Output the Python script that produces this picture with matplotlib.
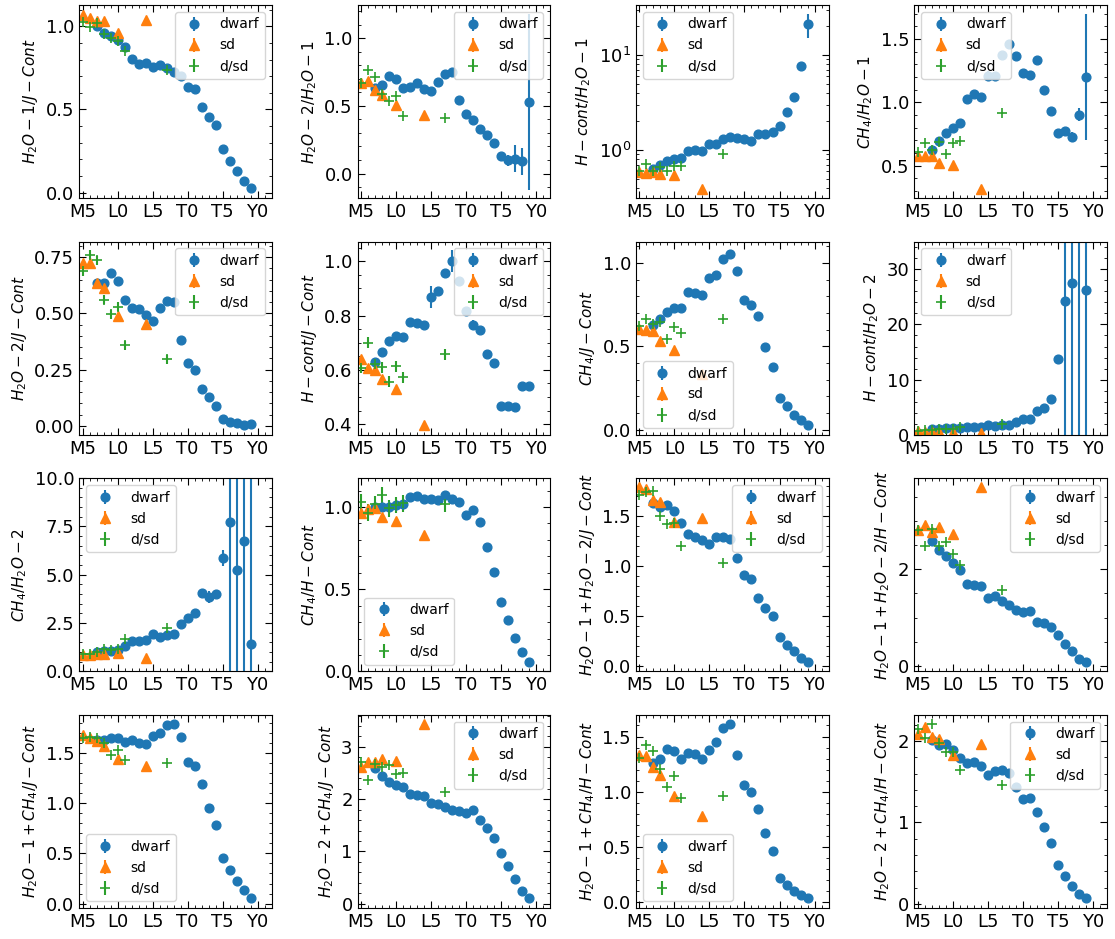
import matplotlib
matplotlib.use('Agg')
import matplotlib.pyplot as plt
from matplotlib.ticker import AutoMinorLocator, MaxNLocator, FixedLocator, MultipleLocator
import numpy as np

# ---------------- categories ----------------
SPT_DWARF = ['M7', 'M8', 'M9', 'L0', 'L1', 'L2', 'L3', 'L4', 'L5', 'L6', 'L7', 'L8', 'L9',
             'T0', 'T1', 'T2', 'T3', 'T4', 'T5', 'T6', 'T7', 'T8', 'T9']
SPT_SD = ['M5', 'M6', 'M7', 'M8', 'L0', 'L4']
SPT_DSD = ['M5', 'M6', 'M7', 'M8', 'M9', 'L0', 'L1', 'L7']
TICK_LABELS = ['M5', 'L0', 'L5', 'T0', 'T5', 'Y0']
SERIES_LABELS = ['dwarf', 'sd', 'd/sd']

YLABELS = [
    r'$H_2O-1/J-Cont$', r'$H_2O-2/H_2O-1$', r'$H-cont/H_2O-1$', r'$CH_4/H_2O-1$',
    r'$H_2O-2/J-Cont$', r'$H-cont/J-Cont$', r'$CH_4/J-Cont$', r'$H-cont/H_2O-2$',
    r'$CH_4/H_2O-2$', r'$CH_4/H-Cont$', r'$H_2O-1+H_2O-2/J-Cont$', r'$H_2O-1+H_2O-2/H-Cont$',
    r'$H_2O-1+CH_4/J-Cont$', r'$H_2O-2+CH_4/J-Cont$', r'$H_2O-1+CH_4/H-Cont$', r'$H_2O-2+CH_4/H-Cont$',
]

# ---------------- values (dwarf / sd / d/sd) ----------------
P1_DWARF = [1.0, 0.96, 0.94, 0.92, 0.877, 0.806, 0.776, 0.778, 0.756, 0.77, 0.748, 0.726, 0.70,
            0.635, 0.621, 0.514, 0.456, 0.405, 0.26, 0.19, 0.131, 0.07, 0.026]
P1_SD = [1.07, 1.05, 1.03, 1.03, 0.958, 1.04]
P1_DSD = [1.026, 0.994, 1.02, 0.954, 0.933, 0.913, 0.849, 0.736]

P2_DWARF = [0.630, 0.652, 0.721, 0.696, 0.635, 0.642, 0.667, 0.627, 0.608, 0.677, 0.733, 0.753, 0.546,
            0.437, 0.398, 0.326, 0.284, 0.227, 0.128, 0.099, 0.109, 0.091, 0.531]
P2_SD = [0.672, 0.684, 0.615, 0.580, 0.504, 0.432]
P2_DSD = [0.672, 0.763, 0.711, 0.585, 0.536, 0.573, 0.425, 0.407]

P3_DWARF = [0.631, 0.69, 0.76, 0.80, 0.83, 0.968, 0.992, 0.976, 1.147, 1.157, 1.295, 1.38, 1.327,
            1.295, 1.234, 1.46, 1.46, 1.535, 1.79, 2.49, 3.58, 7.6, 21.2]
P3_SD = [0.582, 0.573, 0.582, 0.555, 0.55, 0.389]
P3_DSD = [0.601, 0.713, 0.606, 0.657, 0.596, 0.684, 0.684, 0.90]

P4_DWARF = [0.626, 0.692, 0.755, 0.8, 0.837, 1.029, 1.066, 1.042, 1.21, 1.21, 1.376, 1.463, 1.368,
            1.232, 1.216, 1.334, 1.1, 0.934, 0.755, 0.771, 0.724, 0.903, 1.2]
P4_SD = [0.574, 0.574, 0.579, 0.521, 0.503, 0.318]
P4_DSD = [0.608, 0.679, 0.621, 0.684, 0.592, 0.679, 0.692, 0.913]

P5_DWARF = [0.633, 0.633, 0.681, 0.642, 0.56, 0.524, 0.521, 0.493, 0.464, 0.524, 0.553, 0.552, 0.381,
            0.28, 0.248, 0.165, 0.127, 0.09, 0.031, 0.016, 0.012, 0.004, 0.009]
P5_SD = [0.724, 0.724, 0.636, 0.614, 0.487, 0.451]
P5_DSD = [0.687, 0.76, 0.735, 0.56, 0.495, 0.53, 0.359, 0.296]

P6_DWARF = [0.629, 0.664, 0.708, 0.726, 0.72, 0.778, 0.771, 0.767, 0.869, 0.89, 0.958, 1.0, 0.928,
            0.818, 0.765, 0.747, 0.658, 0.624, 0.466, 0.466, 0.464, 0.541, 0.541]
P6_SD = [0.639, 0.606, 0.598, 0.567, 0.528, 0.399]
P6_DSD = [0.608, 0.7, 0.62, 0.61, 0.557, 0.614, 0.572, 0.657]

P7_DWARF = [0.63, 0.663, 0.709, 0.729, 0.733, 0.824, 0.822, 0.806, 0.913, 0.929, 1.026, 1.057, 0.954,
            0.778, 0.749, 0.681, 0.497, 0.376, 0.192, 0.143, 0.091, 0.061, 0.028]
P7_SD = [0.606, 0.596, 0.592, 0.535, 0.479, 0.333]
P7_DSD = [0.62, 0.667, 0.632, 0.646, 0.545, 0.616, 0.582, 0.663]

P8_DWARF = [1.08, 1.08, 1.2, 1.2, 1.32, 1.44, 1.38, 1.44, 1.74, 1.68, 1.8, 1.8, 2.28,
            2.81, 2.93, 4.37, 4.91, 6.59, 13.7, 24.2, 27.5, 45.0, 26.2]
P8_SD = [0.7, 0.6, 0.6, 0.6, 0.6, 0.3]
P8_DSD = [0.7, 0.84, 0.9, 1.0, 1.08, 1.08, 1.38, 2.0]

P9_DWARF = [1.01, 1.04, 1.04, 1.1, 1.3, 1.58, 1.58, 1.61, 1.95, 1.78, 1.87, 1.92, 2.47,
            2.76, 3.03, 4.06, 3.84, 4.0, 5.86, 7.74, 5.24, 6.76, 1.44]
P9_SD = [0.84, 0.84, 0.92, 0.92, 0.96, 0.72]
P9_DSD = [0.92, 0.92, 1.01, 1.18, 1.1, 1.18, 1.66, 2.24]

P10_DWARF = [1.002, 1.002, 1.002, 1.01, 1.018, 1.063, 1.069, 1.051, 1.051, 1.045, 1.073, 1.051, 1.03,
             0.949, 0.982, 0.911, 0.757, 0.605, 0.421, 0.312, 0.202, 0.119, 0.059]
P10_SD = [0.962, 0.986, 0.996, 0.941, 0.915, 0.83]
P10_DSD = [1.028, 0.966, 1.016, 1.073, 0.992, 1.012, 1.022, 1.018]

P11_DWARF = [1.627, 1.582, 1.61, 1.541, 1.428, 1.318, 1.291, 1.26, 1.216, 1.284, 1.291, 1.267, 1.079,
             0.908, 0.866, 0.675, 0.582, 0.497, 0.291, 0.205, 0.144, 0.079, 0.041]
P11_SD = [1.781, 1.764, 1.654, 1.634, 1.438, 1.473]
P11_DSD = [1.705, 1.736, 1.747, 1.5, 1.414, 1.421, 1.199, 1.027]

P12_DWARF = [2.592, 2.397, 2.272, 2.125, 1.979, 1.693, 1.672, 1.652, 1.401, 1.443, 1.352, 1.268, 1.164,
             1.115, 1.136, 0.906, 0.892, 0.808, 0.641, 0.453, 0.314, 0.153, 0.084]
P12_SD = [2.801, 2.906, 2.774, 2.878, 2.732, 3.693]
P12_DSD = [2.815, 2.488, 2.822, 2.474, 2.564, 2.321, 2.091, 1.561]

P13_DWARF = [1.63, 1.623, 1.649, 1.649, 1.61, 1.63, 1.598, 1.584, 1.669, 1.699, 1.774, 1.783, 1.654,
             1.413, 1.37, 1.195, 0.953, 0.781, 0.452, 0.333, 0.222, 0.131, 0.054]
P13_SD = [1.676, 1.646, 1.62, 1.565, 1.437, 1.373]
P13_DSD = [1.646, 1.661, 1.652, 1.6, 1.478, 1.529, 1.431, 1.399]

P14_DWARF = [2.591, 2.444, 2.329, 2.271, 2.236, 2.095, 2.073, 2.065, 1.921, 1.909, 1.852, 1.783, 1.782,
             1.727, 1.791, 1.6, 1.448, 1.252, 0.97, 0.715, 0.478, 0.242, 0.1]
P14_SD = [2.623, 2.716, 2.709, 2.76, 2.722, 3.44]
P14_DSD = [2.707, 2.373, 2.665, 2.623, 2.653, 2.49, 2.502, 2.129]

P15_DWARF = [1.263, 1.296, 1.39, 1.371, 1.293, 1.348, 1.343, 1.299, 1.377, 1.453, 1.579, 1.609, 1.335,
             1.058, 0.997, 0.846, 0.624, 0.466, 0.223, 0.159, 0.103, 0.065, 0.037]
P15_SD = [1.33, 1.32, 1.228, 1.149, 0.966, 0.784]
P15_DSD = [1.307, 1.427, 1.367, 1.206, 1.04, 1.146, 0.941, 0.959]

P16_DWARF = [2.008, 1.952, 1.963, 1.888, 1.796, 1.733, 1.742, 1.694, 1.585, 1.633, 1.648, 1.609, 1.439,
             1.293, 1.303, 1.133, 0.948, 0.747, 0.479, 0.341, 0.222, 0.12, 0.068]
P16_SD = [2.081, 2.178, 2.054, 2.026, 1.83, 1.965]
P16_DSD = [2.15, 2.039, 2.205, 1.977, 1.867, 1.866, 1.645, 1.46]

# errors: base value for all points of a panel, plus the larger ones by spectral type
P1_ERR = {'base': 0.008, 'L5': 0.025}
P2_ERR = {'base': 0.008, 'L5': 0.02, 'L8': 0.02, 'T1': 0.03, 'T6': 0.04, 'T7': 0.1, 'T8': 0.1, 'T9': 0.65}
P3_ERR = {'base': 0.008, 'T9': 6.0}
P4_ERR = {'base': 0.008, 'L5': 0.04, 'L8': 0.03, 'T1': 0.03, 'T7': 0.04, 'T8': 0.05, 'T9': 0.5}
P5_ERR = {'base': 0.005, 'L4': 0.015, 'L8': 0.015, 'L9': 0.015, 'T1': 0.015}
P6_ERR = {'base': 0.005, 'L5': 0.04, 'L8': 0.04, 'T1': 0.02}
P7_ERR = {'base': 0.006, 'L5': 0.015, 'L8': 0.02}
P8_ERR = {'base': 0.1, 'T5': 0.8, 'T6': 100.0, 'T7': 100.0, 'T8': 100.0, 'T9': 100.0}
P9_ERR = {'base': 0.04, 'L5': 0.08, 'T1': 0.15, 'T2': 0.2, 'T3': 0.3, 'T4': 0.2, 'T5': 0.4,
          'T6': 100.0, 'T7': 100.0, 'T8': 100.0, 'T9': 100.0}
P10_ERR = {'base': 0.006, 'L5': 0.02, 'L8': 0.015, 'T1': 0.02}
P11_ERR = {'base': 0.01}
P12_ERR = {'base': 0.015}
P13_ERR = {'base': 0.01}
P14_ERR = {'base': 0.015}
P15_ERR = {'base': 0.01}
P16_ERR = {'base': 0.012}
SD_ERR = [0.006, 0.006, 0.006, 0.006, 0.006, 0.006, 0.006, 0.08, 0.05, 0.006, 0.006, 0.01, 0.006, 0.01, 0.006, 0.01]
DSD_ERR = [0.006, 0.006, 0.006, 0.006, 0.02, 0.02, 0.006, 0.08, 0.05, 0.05, 0.01, 0.015, 0.01, 0.015, 0.01, 0.012]

LEGEND_LOCS = ['upper right', 'upper right', 'upper left', 'upper left',
               'upper right', 'upper right', 'lower left', 'upper left',
               'upper left', 'lower left', 'upper right', 'upper right',
               'lower left', 'upper right', 'lower left', 'upper right']
LOG_PANELS = [2]
FIXED_YLIM = {7: (0, 35), 8: (0, 10)}
FIXED_YSTEP = {11: 2}

PANELS = [
    (P1_DWARF, P1_SD, P1_DSD, P1_ERR), (P2_DWARF, P2_SD, P2_DSD, P2_ERR),
    (P3_DWARF, P3_SD, P3_DSD, P3_ERR), (P4_DWARF, P4_SD, P4_DSD, P4_ERR),
    (P5_DWARF, P5_SD, P5_DSD, P5_ERR), (P6_DWARF, P6_SD, P6_DSD, P6_ERR),
    (P7_DWARF, P7_SD, P7_DSD, P7_ERR), (P8_DWARF, P8_SD, P8_DSD, P8_ERR),
    (P9_DWARF, P9_SD, P9_DSD, P9_ERR), (P10_DWARF, P10_SD, P10_DSD, P10_ERR),
    (P11_DWARF, P11_SD, P11_DSD, P11_ERR), (P12_DWARF, P12_SD, P12_DSD, P12_ERR),
    (P13_DWARF, P13_SD, P13_DSD, P13_ERR), (P14_DWARF, P14_SD, P14_DSD, P14_ERR),
    (P15_DWARF, P15_SD, P15_DSD, P15_ERR), (P16_DWARF, P16_SD, P16_DSD, P16_ERR),
]


def spt_num(s):
    return {'M': 10, 'L': 20, 'T': 30, 'Y': 40}[s[0]] + int(s[1:])


x_d = np.array([spt_num(s) for s in SPT_DWARF])
x_s = np.array([spt_num(s) for s in SPT_SD])
x_ds = np.array([spt_num(s) for s in SPT_DSD])
x_ticks = [spt_num(s) for s in TICK_LABELS]

fig, axes = plt.subplots(4, 4, figsize=(11.15, 9.39), dpi=100)
fig.subplots_adjust(left=0.0709, right=0.9928, bottom=0.033, top=0.9947, wspace=0.446, hspace=0.223)

for i, ax in enumerate(axes.flat):
    dw, sd, dsd, errd = PANELS[i]
    dw = np.array(dw)
    if i in LOG_PANELS:
        e = np.array([errd[s] if s in errd else errd['base'] * v for s, v in zip(SPT_DWARF, dw)])
    else:
        e = np.array([errd.get(s, errd['base']) for s in SPT_DWARF])
    ax.errorbar(x_d, dw, yerr=e, fmt='o', color='C0', ms=6.3, label=SERIES_LABELS[0])
    ax.errorbar(x_s, sd, yerr=SD_ERR[i], fmt='^', color='C1', ms=7, label=SERIES_LABELS[1])
    ax.errorbar(x_ds, dsd, yerr=DSD_ERR[i], fmt='+', color='C2', ms=7.5, mew=1.2, label=SERIES_LABELS[2])

    ax.set_xlim(14.5, 42)
    ax.xaxis.set_major_locator(FixedLocator(x_ticks))
    ax.set_xticklabels(TICK_LABELS)
    ax.xaxis.set_minor_locator(AutoMinorLocator(5))
    if i in LOG_PANELS:
        ax.set_yscale('log')
    else:
        if i in FIXED_YSTEP:
            ax.yaxis.set_major_locator(MultipleLocator(FIXED_YSTEP[i]))
        else:
            ax.yaxis.set_major_locator(MaxNLocator(nbins=4, steps=[1, 2, 2.5, 5, 10]))
        ax.yaxis.set_minor_locator(AutoMinorLocator())
    if i in FIXED_YLIM:
        ax.set_ylim(*FIXED_YLIM[i])
    ax.tick_params(which='both', direction='in', top=True, right=True, labelsize=13)
    ax.tick_params(which='major', length=5)
    ax.tick_params(which='minor', length=2.5)
    ax.set_ylabel(YLABELS[i], fontsize=11)
    ax.legend(loc=LEGEND_LOCS[i], fontsize=10)

fig.savefig('out.png', dpi=100)
